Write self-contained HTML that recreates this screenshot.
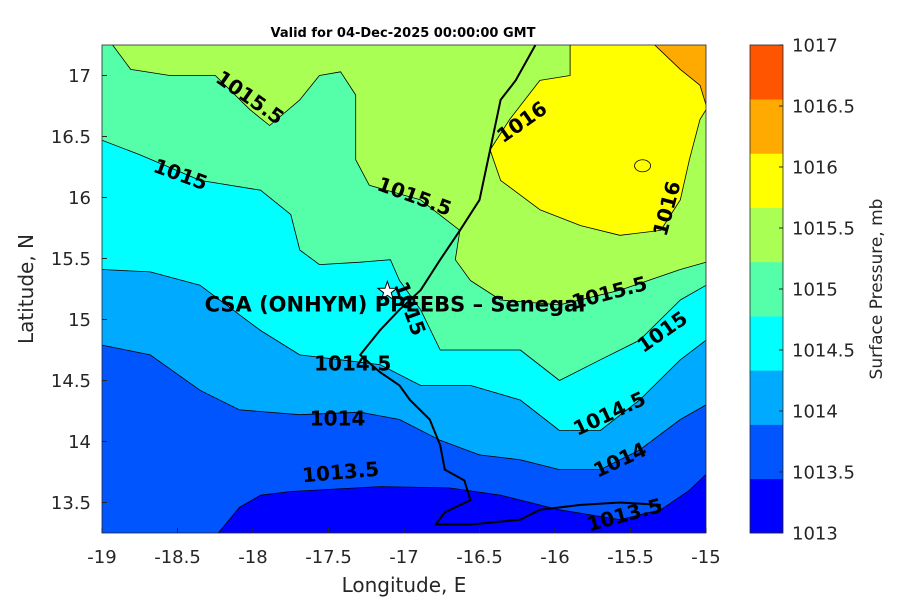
<!DOCTYPE html>
<html><head><meta charset="utf-8"><style>
html,body{margin:0;padding:0;background:#fff;}
svg{display:block;font-family:"DejaVu Sans","Liberation Sans",sans-serif;}
</style></head><body>
<svg id="chart" width="900" height="600" viewBox="0 0 900 600">
<defs><clipPath id="pc"><rect x="102" y="45" width="604" height="488"/></clipPath></defs>
<text x="403" y="37" text-anchor="middle" font-size="13" font-weight="bold" fill="#000">Valid for 04-Dec-2025 00:00:00 GMT</text>
<g id="plot" clip-path="url(#pc)"></g>
<g id="labels"></g>
<g id="axes"></g>
<g id="cbar"></g>
</svg>
<script>
const levels = [1013, 1013.5, 1014, 1014.5, 1015, 1015.5, 1016, 1016.5, 1017];
const bandColors = ['#0000ff','#0055ff','#00aaff','#00ffff','#55ffaa','#aaff55','#ffff00','#ffaa00','#ff5500'];
const xTicks = [-19,-18.5,-18,-17.5,-17,-16.5,-16,-15.5,-15];
const yTicks = [13.5,14,14.5,15,15.5,16,16.5,17];
const c1013_5 = [[-18.23,13.25],[-18.09,13.46],[-17.95,13.56],[-17.75,13.59],[-17.16,13.63],[-16.70,13.62],[-16.36,13.56],[-15.97,13.44],[-15.57,13.36],[-15.30,13.44],[-15.11,13.6],[-15,13.73]];
const c1014 = [[-19,14.79],[-18.68,14.71],[-18.35,14.42],[-18.09,14.26],[-17.69,14.22],[-17.29,14.24],[-17.03,14.18],[-16.76,14.01],[-16.5,13.89],[-16.23,13.85],[-15.97,13.77],[-15.70,13.77],[-15.44,13.93],[-15.17,14.18],[-15,14.3]];
const c1014_5 = [[-19,15.41],[-18.68,15.39],[-18.35,15.28],[-17.95,14.91],[-17.69,14.71],[-17.42,14.67],[-17.16,14.63],[-16.89,14.46],[-16.56,14.46],[-16.23,14.34],[-15.97,14.09],[-15.70,14.09],[-15.44,14.34],[-15.17,14.67],[-15,14.83]];
const c1015 = [[-19,16.47],[-18.75,16.35],[-18.35,16.14],[-17.95,16.06],[-17.75,15.86],[-17.69,15.57],[-17.56,15.45],[-17.29,15.47],[-17.09,15.49],[-17.03,15.32],[-16.89,15.08],[-16.76,14.75],[-16.56,14.75],[-16.23,14.75],[-15.97,14.5],[-15.70,14.67],[-15.44,14.83],[-15.17,15.16],[-15,15.28]];
const c1015_5 = [[-18.93,17.25],[-18.81,17.05],[-18.55,17.0],[-18.25,17.0],[-18.02,16.72],[-17.89,16.59],[-17.69,16.8],[-17.56,17.0],[-17.42,17.03],[-17.32,16.84],[-17.32,16.31],[-17.23,16.1],[-16.89,15.98],[-16.63,15.73],[-16.66,15.49],[-16.56,15.32],[-16.36,15.16],[-15.97,15.12],[-15.57,15.24],[-15.17,15.41],[-15,15.47]];
const c1016 = [[-15.9,17.25],[-15.9,17.0],[-16.1,16.96],[-16.3,16.64],[-16.43,16.39],[-16.36,16.14],[-16.1,15.9],[-15.83,15.77],[-15.57,15.69],[-15.3,15.73],[-15.17,15.98],[-15.11,16.31],[-15.04,16.64],[-15,16.72]];
const c1016_5 = [[-15.34,17.25],[-15.17,17.05],[-15.04,16.92],[-15,16.76]];
const coast = [[-16.13,17.25],[-16.26,16.96],[-16.36,16.8],[-16.43,16.39],[-16.5,15.98],[-16.63,15.73],[-16.76,15.49],[-16.89,15.24],[-17.03,15.08],[-17.16,14.91],[-17.29,14.71],[-17.16,14.57],[-17.03,14.46],[-16.96,14.34],[-16.83,14.18],[-16.76,13.97],[-16.73,13.77],[-16.6,13.68],[-16.56,13.52],[-16.73,13.42],[-16.79,13.32],[-16.56,13.32],[-16.23,13.36],[-16.1,13.44],[-15.83,13.48],[-15.57,13.5],[-15.3,13.48]];
const contourLabels = [['1015.5',-18.02,16.82,35],['1016',-16.22,16.62,-35],['1015',-18.48,16.19,20],['1015.5',-16.93,16.01,20],['1016',-15.26,15.91,-75],['1015',-16.96,15.09,70],['1015.5',-15.64,15.22,-15],['1015',-15.29,14.9,-35],['1014.5',-17.34,14.64,0],['1014',-17.44,14.19,0],['1014.5',-15.64,14.23,-25],['1014',-15.57,13.85,-25],['1013.5',-17.42,13.75,-5],['1013.5',-15.54,13.4,-15]];
const site = [-17.11, 15.23];
const siteName = 'CSA (ONHYM) PPEEBS  – Senegal';

const NS='http://www.w3.org/2000/svg';
const X0=102,X1=706,Y0=45,Y1=533,LON0=-19,LON1=-15,LAT0=13.25,LAT1=17.25;
const sx=v=>X0+(v-LON0)/(LON1-LON0)*(X1-X0);
const sy=v=>Y1-(v-LAT0)/(LAT1-LAT0)*(Y1-Y0);
function mk(tag,attrs,parent){const e=document.createElementNS(NS,tag);for(const k in attrs)e.setAttribute(k,attrs[k]);parent.appendChild(e);return e;}
const plot=document.getElementById('plot');
let r=mk('rect',{x:X0,y:Y0,width:X1-X0,height:Y1-Y0,fill:bandColors[0]},plot);


const contours=[c1013_5,c1014,c1014_5,c1015,c1015_5,c1016,c1016_5];
const pts=a=>a.map(p=>sx(p[0]).toFixed(1)+','+sy(p[1]).toFixed(1));
contours.forEach((c,i)=>{
  let poly=pts(c);
  const s=c[0];
  poly.push(sx(LON1)+','+sy(LAT1));
  if(s[1]<LAT1-0.001){ poly.push(sx(LON0)+','+sy(LAT1)); }
  if(s[1]<=LAT0+0.001){ poly.push(sx(LON0)+','+sy(LAT0)); }
  const p=mk('polygon',{points:poly.join(' '),fill:bandColors[i+1]},plot);
  
  
  const l=mk('polyline',{points:pts(c).join(' '),fill:'none',stroke:'#000','stroke-width':0.8,'stroke-linejoin':'round'},plot);
  
  
});
let isl=mk('ellipse',{cx:sx(-15.42),cy:sy(16.26),rx:8,ry:6,fill:'none',stroke:'#000','stroke-width':0.8},plot);


let cl=mk('polyline',{points:pts(coast).join(' '),fill:'none',stroke:'#000','stroke-width':2,'stroke-linejoin':'round'},plot);



const lab=document.getElementById('labels');
contourLabels.forEach(d=>{
  const x=sx(d[1]),y=sy(d[2]);
  const t=mk('text',{x:x,y:y,'text-anchor':'middle','dominant-baseline':'central','font-size':20,'font-weight':'bold',fill:'#000',transform:`rotate(${d[3]} ${x} ${y})`},lab);
  t.textContent=d[0];
  
  
});
(function(){const cx=sx(site[0]),cy=sy(site[1]);let p=[];for(let k=0;k<10;k++){const a=-Math.PI/2+k*Math.PI/5,rr=k%2?4:10;p.push((cx+rr*Math.cos(a)).toFixed(1)+','+(cy+rr*Math.sin(a)).toFixed(1));}
const s=mk('polygon',{points:p.join(' '),fill:'#fff',stroke:'#000','stroke-width':1},lab);


const t=mk('text',{x:395,y:cy+20,'text-anchor':'middle','font-size':21,'font-weight':'bold',fill:'#000'},lab);
t.textContent=siteName;

})();

const ax=document.getElementById('axes');
mk('rect',{x:X0,y:Y0,width:X1-X0,height:Y1-Y0,fill:'none',stroke:'#262626','stroke-width':0.8},ax);
xTicks.forEach(v=>{const x=sx(v);
  mk('line',{x1:x,x2:x,y1:Y1,y2:Y1-5,stroke:'#262626'},ax);
  const t=mk('text',{x:x,y:563,'text-anchor':'middle','font-size':18,fill:'#262626'},ax);t.textContent=v;
  
  });
yTicks.forEach(v=>{const y=sy(v);
  mk('line',{x1:X0,x2:X0+5,y1:y,y2:y,stroke:'#262626'},ax);
  const t=mk('text',{x:91,y:y+6.5,'text-anchor':'end','font-size':18,fill:'#262626'},ax);t.textContent=v;
  
  });
let xt=mk('text',{x:404,y:592,'text-anchor':'middle','font-size':20,fill:'#262626'},ax);xt.textContent='Longitude, E';


let yt=mk('text',{x:33,y:289,'text-anchor':'middle','font-size':20,fill:'#262626',transform:'rotate(-90 33 289)'},ax);yt.textContent='Latitude, N';



const cb=document.getElementById('cbar');
const CX=750,CW=33,nb=bandColors.length,bh=(Y1-Y0)/nb,lh=(Y1-Y0)/(levels.length-1);
for(let i=0;i<nb;i++){
  const b=mk('rect',{x:CX,y:Y1-(i+1)*bh,width:CW,height:bh+0.3,fill:bandColors[i]},cb);
  
  
}
mk('rect',{x:CX,y:Y0,width:CW,height:Y1-Y0,fill:'none',stroke:'#262626','stroke-width':0.8},cb);
levels.forEach((v,i)=>{const y=Y1-i*lh;
  mk('line',{x1:CX+CW-4,x2:CX+CW,y1:y,y2:y,stroke:'#262626'},cb);
  const t=mk('text',{x:792,y:y+6.5,'font-size':18,fill:'#262626'},cb);t.textContent=v;
  
  });
let ct=mk('text',{x:882,y:289,'text-anchor':'middle','font-size':17,fill:'#262626',transform:'rotate(-90 882 289)'},cb);ct.textContent='Surface Pressure, mb';


</script>
</body></html>
